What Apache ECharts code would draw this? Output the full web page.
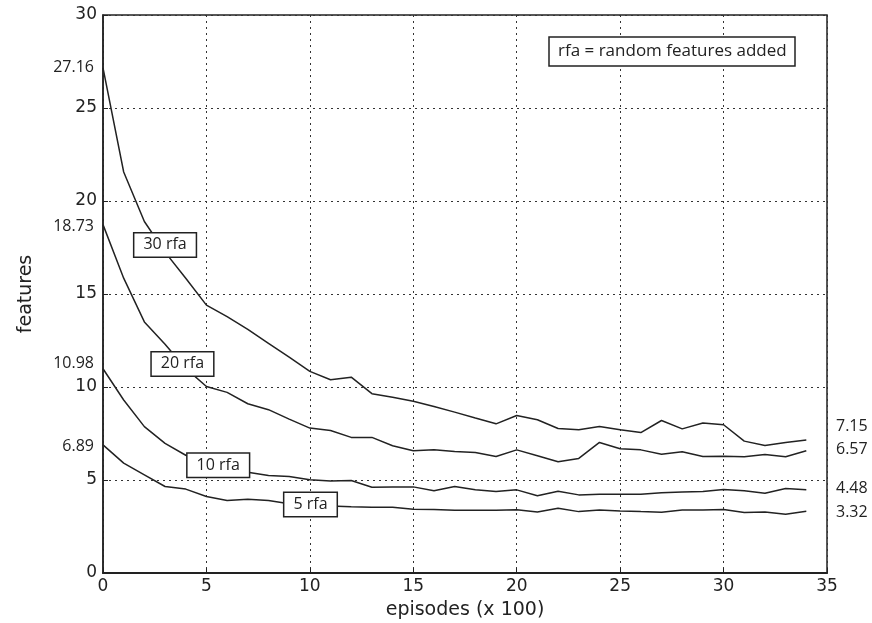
<!DOCTYPE html>
<html><head><meta charset="utf-8">
<script src="https://cdn.jsdelivr.net/npm/echarts@6/dist/echarts.min.js"></script>
<style>html,body{margin:0;padding:0;background:#fff}#c{width:872px;height:623px}</style>
</head><body><div id="c"></div>
<script>
const episodes = [0,1,2,3,4,5,6,7,8,9,10,11,12,13,14,15,16,17,18,19,20,21,22,23,24,25,26,27,28,29,30,31,32,33,34];
const rfa30 = [27.16,21.56,18.9,17.25,15.85,14.4,13.78,13.1,12.35,11.6,10.84,10.39,10.53,9.64,9.45,9.23,8.95,8.65,8.33,8.02,8.47,8.24,7.77,7.70,7.88,7.70,7.55,8.20,7.75,8.06,7.97,7.09,6.86,7.02,7.15];
const rfa20 = [18.73,15.85,13.5,12.3,11.0,10.03,9.71,9.1,8.78,8.27,7.79,7.66,7.29,7.29,6.84,6.57,6.62,6.53,6.48,6.26,6.62,6.30,5.98,6.16,7.02,6.68,6.62,6.39,6.52,6.26,6.28,6.25,6.37,6.25,6.57];
const rfa10 = [10.98,9.3,7.87,6.97,6.33,5.95,5.62,5.42,5.24,5.19,5.01,4.94,4.97,4.61,4.62,4.63,4.42,4.65,4.47,4.38,4.47,4.15,4.40,4.20,4.24,4.24,4.24,4.31,4.36,4.38,4.49,4.42,4.29,4.54,4.48];
const rfa5 = [6.89,5.91,5.28,4.65,4.51,4.11,3.90,3.97,3.90,3.72,3.65,3.60,3.56,3.54,3.53,3.43,3.42,3.38,3.38,3.38,3.40,3.28,3.48,3.30,3.39,3.34,3.30,3.27,3.39,3.39,3.41,3.25,3.28,3.16,3.32];
const seriesNames = ['30 rfa','20 rfa','10 rfa','5 rfa'];
const labelX = [3.0, 3.84, 5.57, 10.03];
const labelY = [17.64, 11.24, 5.79, 3.68];
const xTicks = [0,5,10,15,20,25,30,35];
const yTicks = [0,5,10,15,20,25,30];
const leftExtraText = ['27.16','18.73','10.98','6.89'];
const leftExtraPos = [27.16, 18.65, 11.25, 6.78];
const rightText = ['7.15','6.57','4.48','3.32'];
const rightPos = [7.88, 6.66, 4.56, 3.25];
const legendText = 'rfa = random features added';

const allSeries = [rfa30, rfa20, rfa10, rfa5];
const chart = echarts.init(document.getElementById('c'), null, {renderer:'canvas'});
const tickFont = '"DejaVu Sans",sans-serif';
const labFont = '"Open Sans","Noto Sans",sans-serif';
function lookup(pos, txt){ return function(v){ let b=0,d=1e9; pos.forEach((p,i)=>{ if(Math.abs(p-v)<d){d=Math.abs(p-v);b=i;} }); return txt[b]; }; }
const option = {
  animation:false,
  backgroundColor:'#fff',
  grid:{left:103,right:45,top:15,bottom:50,containLabel:false,outerBoundsMode:'none',show:true,borderColor:'#222',borderWidth:1.5,backgroundColor:'transparent'},
  title:{text:legendText,left:549,top:37,padding:[6,9,6,9],borderColor:'#222',borderWidth:1.5,backgroundColor:'#fff',
    textStyle:{fontFamily:labFont,fontSize:17,fontWeight:'normal',color:'#222'}},
  xAxis:{type:'value',min:0,max:35,interval:5,name:'episodes (x 100)',nameLocation:'middle',nameGap:28,
    nameTextStyle:{fontFamily:tickFont,fontSize:19,color:'#222'},
    axisLine:{show:true,lineStyle:{color:'#222',width:2}},
    axisTick:{show:true,inside:true,length:5,lineStyle:{color:'#222',width:1},customValues:xTicks},
    axisLabel:{fontFamily:tickFont,fontSize:17,color:'#222',margin:5,customValues:xTicks},
    splitLine:{show:true,lineStyle:{type:[2,4],color:'#333',width:1}}},
  yAxis:[
    {type:'value',min:0,max:30,interval:5,name:'features',nameLocation:'middle',nameGap:67,
     nameTextStyle:{fontFamily:tickFont,fontSize:19,color:'#222'},
     axisLine:{show:true,lineStyle:{color:'#222',width:1.5}},
     axisTick:{show:true,inside:true,length:5,lineStyle:{color:'#222',width:1},customValues:yTicks},
     axisLabel:{fontFamily:tickFont,fontSize:17,color:'#222',margin:6,customValues:yTicks},
     splitLine:{show:true,lineStyle:{type:[2,4],color:'#333',width:1}}},
    {type:'value',min:0,max:30,position:'left',
     axisLine:{show:false},axisTick:{show:false},splitLine:{show:false},
     axisLabel:{fontFamily:labFont,fontSize:16,color:'#222',margin:9,customValues:leftExtraPos,formatter:lookup(leftExtraPos,leftExtraText)}},
    {type:'value',min:0,max:30,position:'right',
     axisLine:{show:false},axisTick:{show:false},splitLine:{show:false},
     axisLabel:{fontFamily:labFont,fontSize:16,color:'#222',margin:9,customValues:rightPos,formatter:lookup(rightPos,rightText)}}
  ],
  series: allSeries.map((arr,i)=>({
    type:'line',name:seriesNames[i],yAxisIndex:0,showSymbol:false,symbol:'none',
    data: episodes.map((x,j)=>[x,arr[j]]),
    lineStyle:{color:'#222',width:1.5},
    markPoint:{symbol:'rect',symbolSize:0,silent:true,
      data:[{coord:[labelX[i],labelY[i]],name:seriesNames[i]}],
      label:{show:true,position:'inside',formatter:seriesNames[i],fontFamily:labFont,fontSize:16,color:'#222',
        backgroundColor:'#fff',borderColor:'#222',borderWidth:1.5,padding:[4,9,3,9]}}
  }))
};
chart.setOption(option);
</script></body></html>
